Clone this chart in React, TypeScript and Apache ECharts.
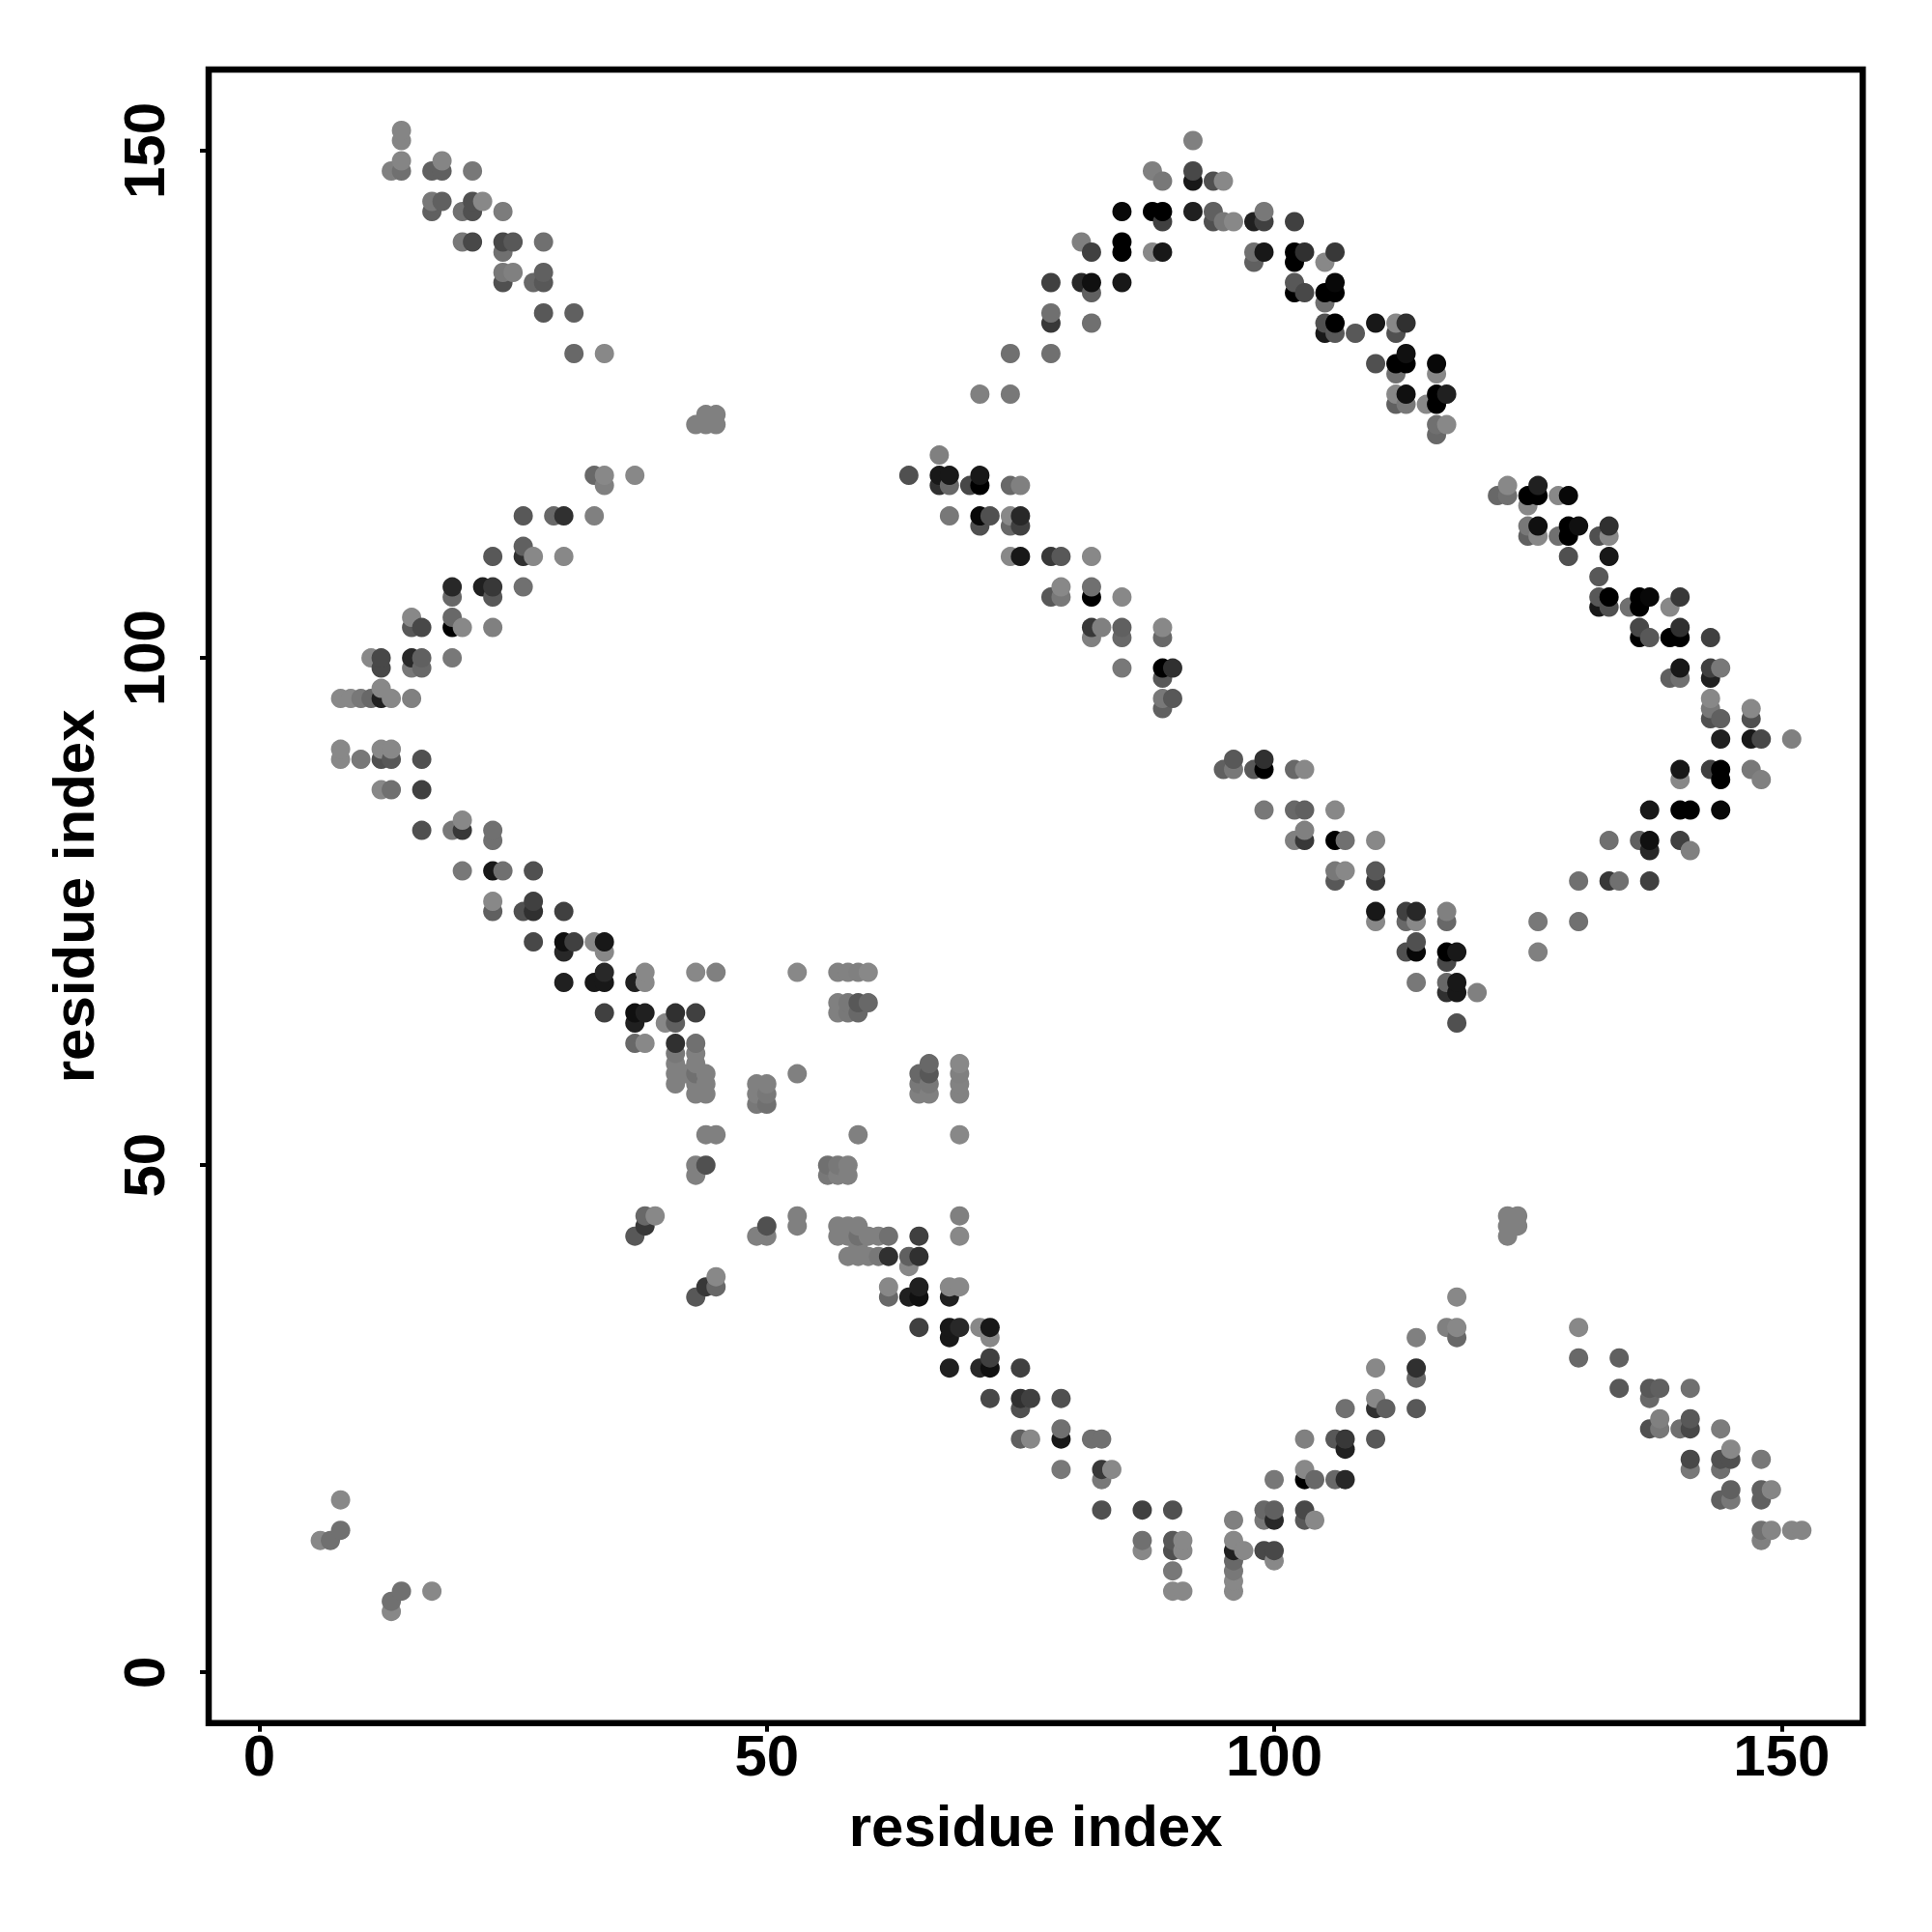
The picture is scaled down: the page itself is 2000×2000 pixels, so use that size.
import React, { useEffect, useRef } from "react";
import * as echarts from "echarts";

// Each contact is [residue i, residue j, grey level]; the map is symmetric, so only j > i is listed.
const cornerContacts = [
  [6,13,0x88],[7,13,0x70],[8,14,0x70],[8,17,0x88],
];
const upperLeftContacts = [
  [14,152,0x85],[14,151,0x85],[14,149,0x85],[13,148,0x80],[14,148,0x70],[17,148,0x60],[18,148,0x60],[18,149,0x85],[21,148,0x78],
  [17,145,0x78],[18,145,0x60],[17,144,0x60],[20,144,0x70],[21,144,0x50],[21,145,0x50],[22,145,0x88],[24,144,0x7c],
  [20,141,0x78],[21,141,0x48],[24,141,0x48],[25,141,0x58],[24,140,0x70],[28,141,0x70],
  [24,138,0x78],[25,138,0x80],[24,137,0x50],[27,137,0x68],[28,138,0x60],[28,137,0x58],
  [28,134,0x58],[31,134,0x60],[31,130,0x68],[34,130,0x88],
];
const upperMiddleContacts = [
  [43,123,0x80],[44,124,0x80],[44,123,0x80],[45,124,0x80],[45,123,0x80],
  [33,118,0x68],[34,118,0x88],[34,117,0x80],[37,118,0x88],
  [26,114,0x58],[29,114,0x68],[30,114,0x30],[33,114,0x80],
];
const leftContacts = [
  [23,110,0x58],[26,111,0x60],[26,110,0x30],[27,110,0x88],[30,110,0x88],
  [19,107,0x28],[19,106,0x68],[22,107,0x20],[23,107,0x38],[23,106,0x58],[26,107,0x70],
  [15,104,0x88],[15,103,0x58],[16,103,0x48],[19,104,0x68],[19,103,0x00],[20,103,0x88],[23,103,0x80],
  [11,100,0x88],[12,100,0x48],[12,99,0x48],[15,100,0x28],[16,100,0x60],[15,99,0x78],[16,99,0x68],[19,100,0x78],
  [8,96,0x88],[9,96,0x88],[10,96,0x78],[11,96,0x68],[12,96,0x20],[12,97,0x88],[13,96,0x88],[15,96,0x80],
  [8,91,0x88],[8,90,0x88],[10,90,0x78],[12,91,0x88],[13,91,0x88],[12,90,0x50],[13,90,0x58],[16,90,0x50],
  [12,87,0x88],[13,87,0x70],[16,87,0x40],
  [16,83,0x50],[19,83,0x78],[20,84,0x88],[20,83,0x38],[23,83,0x70],[23,82,0x70],
  [20,79,0x78],[23,79,0x18],[24,79,0x70],[27,79,0x50],
  [23,76,0x88],[23,75,0x60],[26,75,0x50],[27,76,0x40],[27,75,0x30],[30,75,0x40],
  [27,72,0x48],[30,72,0x10],[31,72,0x40],[30,71,0x28],[33,72,0x88],[34,72,0x18],[34,71,0x88],
  [30,68,0x20],[33,68,0x18],[34,69,0x28],[34,68,0x18],[34,65,0x40],
];
const centerContacts = [
  [37,68,0x20],[38,69,0x88],[38,68,0x88],[43,69,0x88],[45,69,0x80],[53,69,0x88],
  [57,69,0x82],[58,69,0x82],[59,69,0x80],[60,69,0x88],
  [57,66,0x80],[58,66,0x78],[59,66,0x58],[60,66,0x68],[57,65,0x80],[58,65,0x78],[59,65,0x68],
  [37,65,0x10],[38,65,0x20],[37,64,0x20],[41,65,0x30],[43,65,0x40],[40,64,0x88],[41,64,0x60],
  [37,62,0x68],[38,62,0x88],[41,62,0x30],[43,62,0x70],
  [41,61,0x78],[43,61,0x80],[41,60,0x80],[43,60,0x80],[41,59,0x80],[42,59,0x80],[43,59,0x70],[44,59,0x80],
  [41,58,0x80],[43,58,0x80],[44,58,0x80],[43,57,0x80],[44,57,0x80],
  [49,58,0x80],[50,58,0x80],[49,57,0x80],[50,57,0x78],[49,56,0x78],[50,56,0x70],[53,59,0x80],
  [44,53,0x80],[45,53,0x80],[43,50,0x80],[44,50,0x50],[43,49,0x80],
  [38,45,0x68],[39,45,0x88],[38,44,0x38],[37,43,0x58],
];
const stripContacts = [
  [64,118,0x50],[67,120,0x80],[67,118,0x18],[68,118,0x18],[67,117,0x30],[68,117,0x68],
  [70,117,0x48],[71,118,0x18],[71,117,0x00],[74,117,0x68],[75,117,0x80],
  [68,114,0x78],[71,114,0x08],[72,114,0x50],[71,113,0x50],[74,114,0x88],[75,114,0x28],[74,113,0x68],[75,113,0x40],
  [74,110,0x88],[75,110,0x18],[78,110,0x38],[79,110,0x58],[82,110,0x88],
  [78,106,0x58],[79,106,0x78],[79,107,0x88],[82,107,0x70],[82,106,0x00],[85,106,0x88],
  [82,103,0x38],[83,103,0x80],[82,102,0x80],[85,103,0x60],[85,102,0x68],[89,103,0x88],[89,102,0x68],
  [85,99,0x78],[89,99,0x00],[90,99,0x30],[89,98,0x58],[89,96,0x78],[90,96,0x58],[89,95,0x60],
];
const archContacts = [
  [71,126,0x80],[74,126,0x78],[74,130,0x70],[78,130,0x70],[78,134,0x70],[78,133,0x38],[82,133,0x70],
  [78,137,0x40],[81,137,0x28],[82,137,0x10],[82,136,0x60],[85,137,0x18],
  [81,141,0x80],[82,140,0x40],[85,141,0x00],[85,140,0x00],[88,140,0x88],[89,140,0x18],
  [85,144,0x08],[88,144,0x00],[89,144,0x00],[89,143,0x40],[88,148,0x80],[89,147,0x78],
  [92,151,0x80],[92,148,0x48],[92,147,0x18],[94,147,0x50],[95,147,0x88],
  [92,144,0x20],[94,144,0x60],[94,143,0x50],[95,143,0x78],[96,143,0x88],
  [98,143,0x20],[99,144,0x78],[99,143,0x40],[102,143,0x40],
  [98,140,0x70],[99,140,0x18],[98,139,0x60],[102,140,0x00],[103,140,0x30],[102,139,0x00],[105,139,0x88],[106,140,0x38],
  [102,137,0x58],[102,136,0x00],[103,136,0x48],[105,136,0x00],[106,137,0x08],[106,136,0x00],[105,135,0x70],
  [105,133,0x50],[106,133,0x00],[105,132,0x18],[106,132,0x58],[108,132,0x58],
  [110,133,0x18],[112,133,0x88],[113,133,0x30],[112,132,0x50],
  [110,129,0x50],[112,129,0x00],[113,130,0x10],[113,129,0x00],[112,128,0x70],[116,129,0x08],[116,128,0x88],
  [112,126,0x88],[113,126,0x10],[112,125,0x60],[113,125,0x78],[115,125,0x88],[116,126,0x00],[117,126,0x20],[116,125,0x00],
  [116,123,0x70],[117,123,0x88],[116,122,0x68],
];
const tickValues = [0, 50, 100, 150];
const axisTitle = "residue index";

const contactGroups = [cornerContacts, upperLeftContacts, upperMiddleContacts, leftContacts, centerContacts, stripContacts, archContacts];

function buildPoints() {
  const all: number[][] = [];
  for (const group of contactGroups) {
    for (const [i, j, g] of group) {
      all.push([i, j, g]);
      all.push([j, i, g]);
    }
  }
  return all.sort((a, b) => a[0] - b[0] || a[1] - b[1]);
}

const FONT = "Liberation Sans";

export default function App() {
  const ref = useRef<HTMLDivElement>(null);
  useEffect(() => {
    const chart = echarts.init(ref.current!, null, { renderer: "svg" });
    const axisBase = {
      type: "value" as const,
      min: -5,
      max: 158,
      name: axisTitle,
      nameLocation: "middle" as const,
      nameTextStyle: { fontFamily: FONT, fontWeight: "bold" as const, fontSize: 60, color: "#000" },
      axisLine: { show: false, onZero: false },
      splitLine: { show: false },
      axisTick: { show: true, length: 9, lineStyle: { color: "#000", width: 4 }, customValues: tickValues },
    };
    chart.setOption({
      animation: false,
      backgroundColor: "#fff",
      grid: { show: true, left: 216, top: 72, width: 1712.3, height: 1711.7, borderColor: "#000", borderWidth: 6.5, backgroundColor: "transparent" },
      xAxis: {
        ...axisBase,
        nameGap: 77,
        axisLabel: { customValues: tickValues, fontFamily: FONT, fontWeight: "bold", fontSize: 60, color: "#000", margin: 4, showMinLabel: true, showMaxLabel: true },
      },
      yAxis: {
        ...axisBase,
        nameGap: 110,
        axisLabel: { customValues: tickValues, fontFamily: FONT, fontWeight: "bold", fontSize: 60, color: "#000", margin: 37, rotate: 90, showMinLabel: true, showMaxLabel: true },
      },
      series: [
        {
          type: "scatter",
          symbol: "circle",
          symbolSize: 20,
          data: buildPoints(),
          itemStyle: {
            opacity: 1,
            color: (p: any) => {
              const g = p.value[2];
              return `rgb(${g},${g},${g})`;
            },
          },
        },
      ],
    });
    return () => chart.dispose();
  }, []);
  return <div ref={ref} style={{ position: "absolute", left: 0, top: 0, width: 2000, height: 2000 }} />;
}
